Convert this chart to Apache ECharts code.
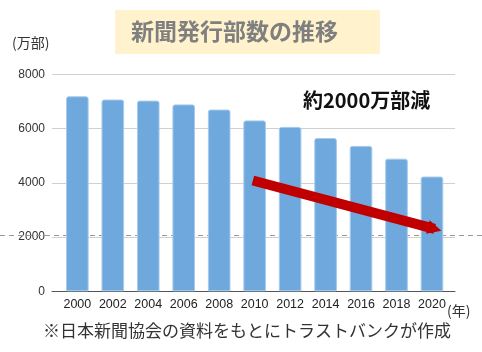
<!DOCTYPE html>
<html>
<head>
<meta charset="utf-8">
<script src="https://cdn.jsdelivr.net/npm/echarts@6.0.0/dist/echarts.min.js"></script>
<style>
  html, body { margin: 0; padding: 0; background: #fff; }
  #chart { width: 482px; height: 352px; }
</style>
</head>
<body>
<div id="chart"></div>
<script>
// 新聞発行部数（万部）
const years = ['2000', '2002', '2004', '2006', '2008', '2010', '2012', '2014', '2016', '2018', '2020'];
const copies = [7190, 7070, 7030, 6890, 6700, 6300, 6060, 5650, 5360, 4890, 4230];
// 矢印（年, 万部）と2000万部の目安線
const arrowFrom = [2009.9, 4085];
const arrowTo = [2020.15, 2300];
const guideValue = 2070;

const jp = '"Noto Sans CJK JP", sans-serif';
const num = '"Liberation Sans", Arial, sans-serif';

const chart = echarts.init(document.getElementById('chart'));

chart.setOption({
    animation: false,
    grid: [
        // gridlines + y labels
        { left: 52, right: 27, top: 74.3, bottom: 60.7 },
        // bars
        { left: 59.6, right: 32.3, top: 74.3, bottom: 60.7 },
        // full width dashed line
        { left: 0, right: 0, top: 74.3, bottom: 60.7 }
    ],
    xAxis: [
        {
            gridIndex: 0, type: 'category', data: years,
            axisLine: { lineStyle: { color: '#555', width: 1 } },
            axisTick: { show: false },
            axisLabel: { show: false }
        },
        {
            gridIndex: 1, type: 'category', data: years,
            axisLine: { show: false },
            axisTick: { show: false },
            axisLabel: { interval: 0, fontFamily: num, fontSize: 12.5, color: '#222', margin: 7 }
        },
        { gridIndex: 1, type: 'value', min: 1999, max: 2021, show: false },
        { gridIndex: 2, type: 'value', min: 0, max: 1, show: false }
    ],
    yAxis: [
        {
            gridIndex: 0, type: 'value', min: 0, max: 8000, interval: 2000,
            axisLine: { show: false },
            axisTick: { show: false },
            axisLabel: {
                fontFamily: num, fontSize: 12, color: '#333', margin: 7,
                formatter: (v) => String(v)
            },
            splitLine: { lineStyle: { color: '#d0d0d0', width: 1 } }
        },
        { gridIndex: 1, type: 'value', min: 0, max: 8000, show: false },
        { gridIndex: 2, type: 'value', min: 0, max: 8000, show: false }
    ],
    series: [
        {
            type: 'lines',
            coordinateSystem: 'cartesian2d',
            xAxisIndex: 3, yAxisIndex: 2,
            silent: true,
            z: 1,
            lineStyle: { color: '#999', width: 1, type: [5, 4], opacity: 1 },
            data: [{ coords: [[0, guideValue], [1, guideValue]] }]
        },
        {
            type: 'bar',
            xAxisIndex: 1, yAxisIndex: 1,
            data: copies,
            barWidth: 22.6,
            z: 2,
            itemStyle: {
                color: '#6fa8dc',
                borderColor: '#a6cbee',
                borderWidth: 1,
                borderRadius: [2, 2, 0, 0]
            }
        },
        {
            type: 'lines',
            coordinateSystem: 'cartesian2d',
            xAxisIndex: 2, yAxisIndex: 1,
            silent: true,
            z: 5,
            symbol: ['none', 'triangle'],
            symbolSize: [22, 14],
            lineStyle: { color: '#c00000', width: 10, opacity: 1 },
            data: [{ coords: [arrowFrom, arrowTo] }]
        }
    ],
    graphic: [
        {
            type: 'rect', left: 115, top: 10, z: 0,
            shape: { width: 265, height: 44 },
            style: { fill: '#fff2cc' }
        },
        {
            type: 'text', left: 131, top: 20, z: 1,
            style: { text: '新聞発行部数の推移', fill: '#7f7f7f', font: 'bold 23px ' + jp }
        },
        {
            type: 'text', left: 12, top: 36,
            style: { text: '(万部)', fill: '#333', font: '14px ' + jp }
        },
        {
            type: 'text', left: 303, top: 90,
            style: { text: '約2000万部減', fill: '#111', font: 'bold 20px ' + jp }
        },
        {
            type: 'text', left: 447, top: 304,
            style: { text: '(年)', fill: '#333', font: '14px ' + jp }
        },
        {
            type: 'text', left: 43, top: 322,
            style: { text: '※日本新聞協会の資料をもとにトラストバンクが作成', fill: '#333', font: '17px ' + jp }
        }
    ]
});
</script>
</body>
</html>
